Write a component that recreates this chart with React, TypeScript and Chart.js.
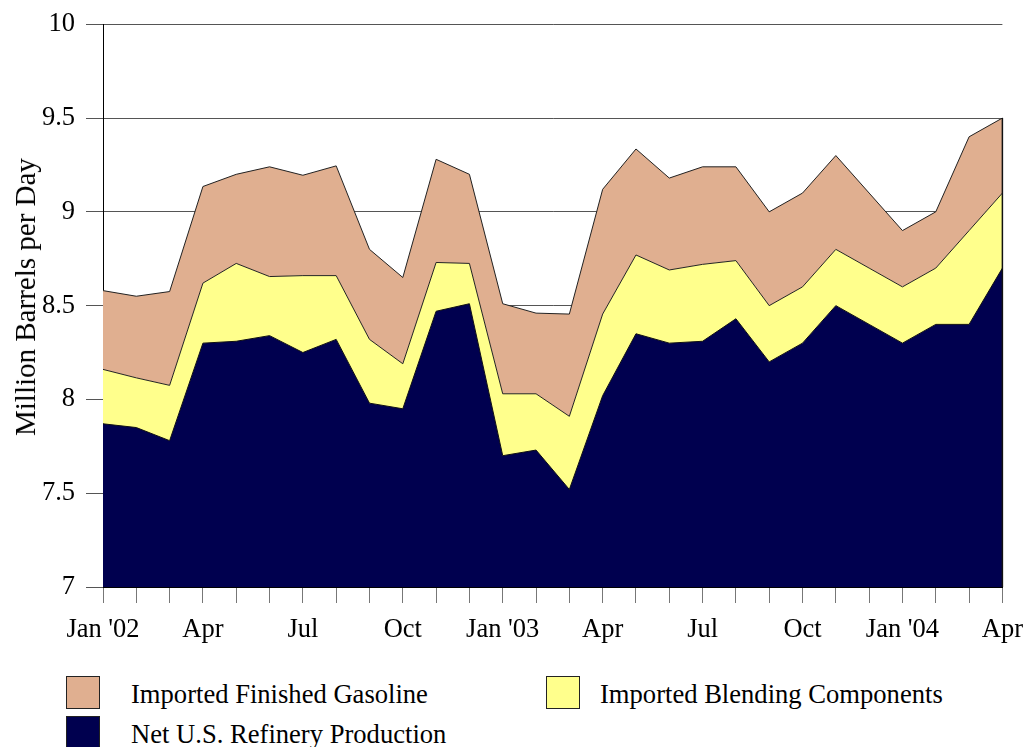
import React, { useEffect, useRef } from 'react';
import { Chart, registerables } from 'chart.js';
Chart.register(...registerables);

const categories = ['2002-01','2002-02','2002-03','2002-04','2002-05','2002-06','2002-07','2002-08','2002-09','2002-10','2002-11','2002-12','2003-01','2003-02','2003-03','2003-04','2003-05','2003-06','2003-07','2003-08','2003-09','2003-10','2003-11','2003-12','2004-01','2004-02','2004-03','2004-04'];
const tickLabels = ["Jan '02","","","Apr","","","Jul","","","Oct","","","Jan '03","","","Apr","","","Jul","","","Oct","","","Jan '04","","","Apr"];

const production = [7.87,7.85,7.78,8.30,8.31,8.34,8.25,8.32,7.98,7.95,8.47,8.51,7.70,7.73,7.52,8.02,8.35,8.30,8.31,8.43,8.20,8.30,8.50,8.40,8.30,8.40,8.40,8.70];
const blending = [0.29,0.265,0.295,0.32,0.415,0.315,0.41,0.34,0.34,0.24,0.26,0.215,0.33,0.30,0.39,0.435,0.42,0.39,0.41,0.31,0.30,0.30,0.30,0.30,0.30,0.30,0.50,0.40];
const finished = [0.42,0.435,0.50,0.515,0.475,0.585,0.535,0.585,0.48,0.46,0.55,0.475,0.48,0.43,0.545,0.665,0.565,0.49,0.52,0.50,0.50,0.50,0.50,0.40,0.30,0.30,0.50,0.40];

const seriesNames = ['Net U.S. Refinery Production', 'Imported Blending Components', 'Imported Finished Gasoline'];
const seriesColors = ['#00004F', '#FFFF8C', '#E0AF90'];

const yTicks = [7, 7.5, 8, 8.5, 9, 9.5, 10];
const yTickLabels = ['7', '7.5', '8', '8.5', '9', '9.5', '10'];
const yTitle = 'Million Barrels per Day';
const FONT = "'Liberation Serif', 'Times New Roman', serif";

const rightEdge = {
  id: 'rightEdge',
  afterDatasetsDraw(chart: any) {
    const x = chart.scales.x;
    const y = chart.scales.y;
    const last = production.length - 1;
    const total = production[last] + blending[last] + finished[last];
    const ctx = chart.ctx;
    ctx.save();
    ctx.strokeStyle = '#111';
    ctx.lineWidth = 1.5;
    ctx.beginPath();
    ctx.moveTo(x.getPixelForValue(last), y.getPixelForValue(total));
    ctx.lineTo(x.getPixelForValue(last), y.getPixelForValue(7));
    ctx.stroke();
    ctx.restore();
  },
};

export default function App() {
  const ref = useRef<HTMLCanvasElement>(null);
  useEffect(() => {
    if (!ref.current) return;
    const chart = new Chart(ref.current, {
      type: 'line',
      data: {
        labels: categories,
        datasets: [
          { label: seriesNames[0], data: production, backgroundColor: seriesColors[0], borderColor: '#111', borderWidth: 1, fill: 'start', pointRadius: 0, tension: 0 },
          { label: seriesNames[1], data: blending, backgroundColor: seriesColors[1], borderColor: '#222', borderWidth: 1, fill: '-1', pointRadius: 0, tension: 0 },
          { label: seriesNames[2], data: finished, backgroundColor: seriesColors[2], borderColor: '#222', borderWidth: 1, fill: '-1', pointRadius: 0, tension: 0 },
        ],
      },
      options: {
        animation: false,
        responsive: false,
        layout: { padding: { left: 0, right: 23, top: 16, bottom: 0 } },
        plugins: { legend: { display: false }, tooltip: { enabled: false } },
        scales: {
          x: {
            offset: false,
            afterFit: (s: any) => { s.height = 60; },
            grid: { drawOnChartArea: false, drawTicks: true, tickLength: 16, color: '#777', lineWidth: 1 },
            border: { display: true, color: '#000', width: 1 },
            ticks: {
              autoSkip: false,
              maxRotation: 0,
              padding: 11,
              color: '#000',
              font: { family: FONT, size: 26.5 },
              callback: (_v: any, i: number) => tickLabels[i],
            },
          },
          y: {
            stacked: true,
            min: 7,
            max: 10,
            afterFit: (s: any) => { s.width = 103; },
            afterBuildTicks: (s: any) => { s.ticks = yTicks.map((v) => ({ value: v })); },
            grid: { drawTicks: true, tickLength: 17, color: '#555', lineWidth: 1 },
            border: { display: true, color: '#000', width: 1 },
            ticks: {
              padding: 11,
              color: '#000',
              font: { family: FONT, size: 26.5, lineHeight: 1 },
              callback: (v: any) => yTickLabels[yTicks.indexOf(Number(v))] ?? String(v),
            },
          },
        },
      },
      plugins: [rightEdge],
    });
    return () => chart.destroy();
  }, []);

  const legendItems = [
    { name: seriesNames[2], color: seriesColors[2], left: 66, top: 676, textLeft: 131 },
    { name: seriesNames[1], color: seriesColors[1], left: 546, top: 676, textLeft: 600 },
    { name: seriesNames[0], color: seriesColors[0], left: 66, top: 716, textLeft: 131 },
  ];

  return (
    <div style={{ position: 'fixed', left: 0, top: 0, width: 1026, height: 747, background: '#fff', overflow: 'hidden' }}>
      <canvas ref={ref} width={1034} height={647} style={{ position: 'absolute', left: 0, top: 0 }} />
      <div style={{ position: 'absolute', left: 25, top: 297, width: 0, height: 0 }}>
        <div style={{ position: 'absolute', left: 0, top: 0, transform: 'translate(-50%, -50%) rotate(-90deg)', fontFamily: FONT, fontSize: 29, lineHeight: '32px', color: '#000', whiteSpace: 'nowrap' }}>{yTitle}</div>
      </div>
      {legendItems.map((it) => (
        <div key={it.name}>
          <div style={{ position: 'absolute', left: it.left, top: it.top, width: 32, height: 31, background: it.color, border: '1px solid #222' }} />
          <div style={{ position: 'absolute', left: it.textLeft, top: it.top + 2, height: 33, lineHeight: '33px', fontFamily: FONT, fontSize: 26.6, color: '#000', whiteSpace: 'nowrap' }}>{it.name}</div>
        </div>
      ))}
    </div>
  );
}
